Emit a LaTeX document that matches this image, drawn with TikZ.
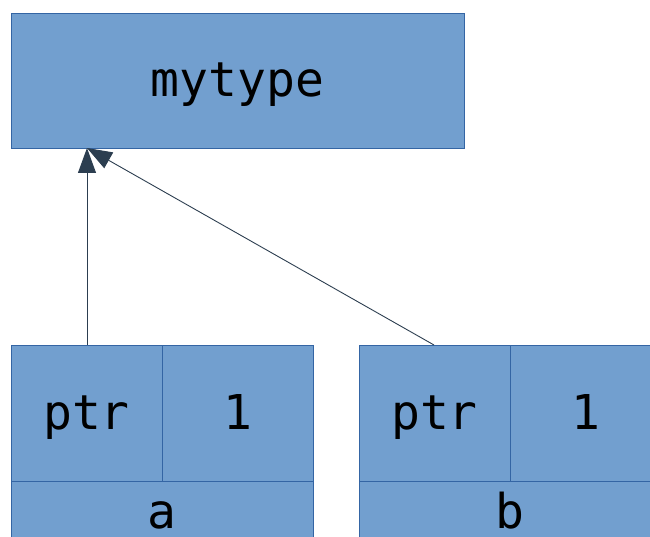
\documentclass[tikz,border=0pt]{standalone}
\usepackage{fontspec}
\setmonofont{DejaVu Sans Mono}
\usetikzlibrary{arrows.meta}
\definecolor{boxfill}{HTML}{729FCF}
\definecolor{boxline}{HTML}{3465A4}
\definecolor{arrowc}{HTML}{2C3E50}
\tikzset{
  cell/.style={draw=boxline, fill=boxfill, line width=0.8pt},
  lbl/.style={font=\ttfamily\fontsize{48}{50}\selectfont, text=black, inner sep=0pt, anchor=base},
  inh/.style={draw=arrowc, line width=0.9pt, -{Triangle[length=25pt,width=18pt]}}
}
\begin{document}
\begin{tikzpicture}[x=1pt,y=-1pt]
\useasboundingbox (0,0) rectangle (650,537);
\clip (0,0) rectangle (650,537);
% top box
\draw[cell] (11,13) rectangle (464,148);
\node[lbl] (mytype) at (237.5,97) {mytype};
\coordinate (top) at (87,148);
% left object
\draw[cell] (11,345) rectangle (162,481);
\draw[cell] (162,345) rectangle (313,481);
\draw[cell] (11,481) rectangle (313,560);
\node[lbl] (aptr) at (86.5,429.5) {ptr};
\node[lbl] (aone) at (237.5,429.5) {1};
\node[lbl] (aname) at (162,528) {a};
\coordinate (afrom) at (87,345);
% right object
\draw[cell] (359,345) rectangle (510,481);
\draw[cell] (510,345) rectangle (661,481);
\draw[cell] (359,481) rectangle (661,560);
\node[lbl] (bptr) at (434.5,429.5) {ptr};
\node[lbl] (bone) at (585.5,429.5) {1};
\node[lbl] (bname) at (510,528) {b};
\coordinate (bfrom) at (434,345);
% arrows
\draw[inh] (afrom) -- (top);
\draw[inh] (bfrom) -- (top);
\end{tikzpicture}
\end{document}
